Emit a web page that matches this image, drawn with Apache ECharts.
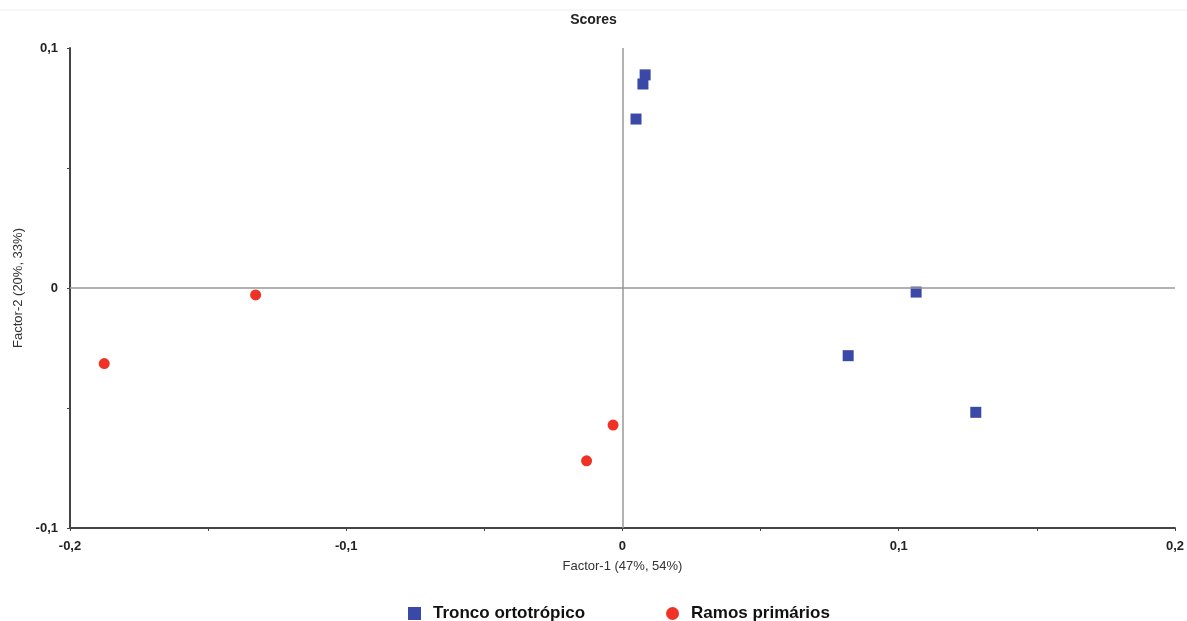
<!DOCTYPE html>
<html>
<head>
<meta charset="utf-8">
<script src="https://cdn.jsdelivr.net/npm/echarts@6/dist/echarts.min.js"></script>
<style>
  html, body { margin: 0; padding: 0; background: #fff; }
  #chart { width: 1187px; height: 621px; }
</style>
</head>
<body>
<div id="chart"></div>
<script>
  // scores: [Factor-1, Factor-2]
  const troncoPoints = [
    [0.0082, 0.0888],
    [0.0074, 0.0850],
    [0.0049, 0.0704],
    [0.1063, -0.0017],
    [0.0817, -0.0282],
    [0.1279, -0.0518]
  ]
  const ramosPoints = [
    [-0.1328, -0.0029],
    [-0.1876, -0.0315],
    [-0.0034, -0.0571],
    [-0.0130, -0.0720]
  ]
  const seriesNames = ['Tronco ortotrópico', 'Ramos primários']
  const xRange = [-0.2, 0.2]
  const yRange = [-0.1, 0.1]

  const fmt = v => {
    const r = Math.round(v * 100) / 100
    if (Math.abs(Math.round(r * 10) - r * 10) > 1e-6) return ''
    return String(Math.round(r * 10) / 10).replace('.', ',')
  }

  const axisCommon = {
    type: 'value',
    interval: 0.05,
    axisLine: { show: true, onZero: false, lineStyle: { color: '#444', width: 2 } },
    axisTick: { show: true, length: 3, lineStyle: { color: '#444' } },
    splitLine: { show: false },
    axisLabel: { formatter: fmt, color: '#222', fontSize: 13, fontWeight: 'bold', fontFamily: 'Liberation Sans' },
    nameLocation: 'middle',
    nameTextStyle: { color: '#333', fontSize: 13, fontFamily: 'Liberation Sans' }
  }

  const chart = echarts.init(document.getElementById('chart'))
  chart.setOption({
    animation: false,
    title: {
      text: 'Scores',
      left: 'center',
      top: 8,
      textStyle: { fontSize: 14, fontWeight: 'bold', color: '#222', fontFamily: 'Liberation Sans' }
    },
    graphic: [{
      type: 'line',
      shape: { x1: 0, y1: 10, x2: 1187, y2: 10 },
      style: { stroke: '#eeeeee', lineWidth: 1 }
    }],
    grid: { left: 70, right: 12, top: 48, bottom: 93 },
    legend: {
      top: 600,
      left: 403,
      itemGap: 81,
      itemWidth: 13,
      itemHeight: 13,
      data: [
        { name: seriesNames[0], icon: 'rect' },
        { name: seriesNames[1], icon: 'circle' }
      ],
      textStyle: { fontSize: 17, fontWeight: 'bold', color: '#111', fontFamily: 'Liberation Sans', padding: [0, 0, 0, 7] }
    },
    xAxis: Object.assign({}, axisCommon, {
      min: xRange[0], max: xRange[1],
      name: 'Factor-1 (47%, 54%)', nameGap: 32,
      axisLabel: Object.assign({}, axisCommon.axisLabel, { margin: 12 })
    }),
    yAxis: Object.assign({}, axisCommon, {
      min: yRange[0], max: yRange[1],
      name: 'Factor-2 (20%, 33%)', nameGap: 38,
      axisLabel: Object.assign({}, axisCommon.axisLabel, { margin: 12 })
    }),
    series: [
      {
        name: seriesNames[0],
        type: 'scatter',
        symbol: 'rect',
        symbolSize: 11,
        itemStyle: { color: '#3a48a8', opacity: 1 },
        data: troncoPoints,
        markLine: {
          silent: true,
          symbol: 'none',
          label: { show: false },
          lineStyle: { color: '#999', width: 1.5, type: 'solid' },
          data: [{ xAxis: 0 }, { yAxis: 0 }]
        },
        z: 3
      },
      {
        name: seriesNames[1],
        type: 'scatter',
        symbol: 'circle',
        symbolSize: 11,
        itemStyle: { color: '#f03226', opacity: 1 },
        data: ramosPoints,
        z: 3
      }
    ]
  })
</script>
</body>
</html>
